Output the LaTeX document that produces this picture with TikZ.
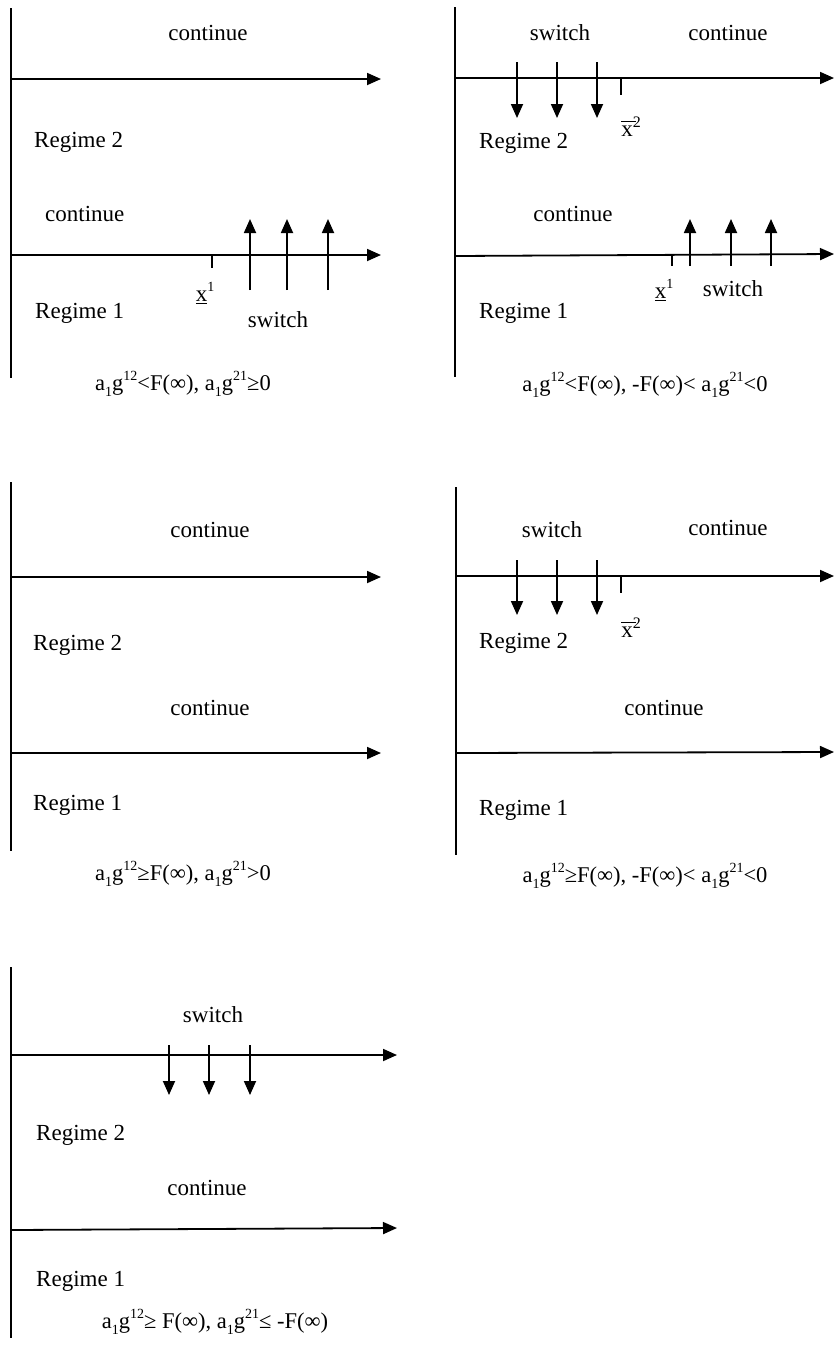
\documentclass[tikz,border=0pt]{standalone}
\usepackage{fontspec}
\setmainfont{Liberation Serif}
\usetikzlibrary{arrows.meta}
\newcommand{\sml}[1]{{\fontsize{14}{14}\selectfont #1}}
\newcommand{\ag}[1]{a\raisebox{-0.28em}{\sml{1}}g\raisebox{0.42em}{\sml{#1}}}
\newcommand{\xlo}{\underline{x}\raisebox{0.42em}{\sml{1}}}
\newcommand{\xhi}{\makebox[0pt][l]{\rule[0.62em]{0.66em}{0.06em}}x\raisebox{0.38em}{{\fontsize{16}{16}\selectfont 2}}}

\begin{document}
\begin{tikzpicture}[x=1pt, y=-1pt,
  every node/.style={font=\fontsize{23}{27}\selectfont, inner sep=0pt},
  wall/.style={line width=1.8pt},
  axis/.style={line width=1.8pt, -{Triangle[length=14pt,width=12pt]}},
  move/.style={line width=1.8pt, -{Triangle[length=14pt,width=12pt]}},
  tick/.style={line width=1.5pt},
  lab/.style={anchor=center},
  reg/.style={anchor=west},
  cond/.style={anchor=center, font=\fontsize{22.5}{26}\selectfont}
]
  \useasboundingbox (0,0) rectangle (835,1353);
  \def\colL{11}\def\colR{455}

  % panel 1: top left
  \coordinate (p1wt) at (\colL,8);    \coordinate (p1wb) at (\colL,378);
  \coordinate (p1ua) at (\colL,79);   \coordinate (p1ub) at (381,79);
  \coordinate (p1la) at (\colL,255);  \coordinate (p1lb) at (381,255);
  \coordinate (p1ka) at (212,255);    \coordinate (p1kb) at (212,268);
  \draw[wall] (p1wt) -- (p1wb);
  \draw[axis] (p1ua) -- (p1ub);
  \draw[axis] (p1la) -- (p1lb);
  \draw[tick] (p1ka) -- (p1kb);
  \foreach \x [count=\i] in {250,287,328} {
    \coordinate (p1b\i) at (\x,290); \coordinate (p1t\i) at (\x,219);
    \draw[move] (p1b\i) -- (p1t\i);
  }
  \node[lab] (p1c2) at (208,33) {continue};
  \node[reg] (p1r2) at (34,142) {Regime 2};
  \node[reg] (p1c1) at (45,214) {continue};
  \node[lab] (p1x) at (205,293) {\xlo};
  \node[lab] (p1sw) at (278,320) {switch};
  \node[reg] (p1r1) at (35,313) {Regime 1};
  \node[cond] (p1cap) at (183,384) {\ag{12}<F(∞), \ag{21}≥0};

  % panel 2: top right
  \coordinate (p2wt) at (\colR,7);    \coordinate (p2wb) at (\colR,377);
  \coordinate (p2ua) at (\colR,78);   \coordinate (p2ub) at (834,78);
  \coordinate (p2la) at (\colR,256);  \coordinate (p2lb) at (834,254);
  \coordinate (p2ka) at (621,78);     \coordinate (p2kb) at (621,95);
  \coordinate (p2ja) at (672,255);    \coordinate (p2jb) at (672,266);
  \draw[wall] (p2wt) -- (p2wb);
  \draw[axis] (p2ua) -- (p2ub);
  \draw[axis] (p2la) -- (p2lb);
  \draw[tick] (p2ka) -- (p2kb);
  \draw[tick] (p2ja) -- (p2jb);
  \foreach \x [count=\i] in {517,557,597} {
    \coordinate (p2s\i) at (\x,62); \coordinate (p2d\i) at (\x,118);
    \draw[move] (p2s\i) -- (p2d\i);
  }
  \foreach \x [count=\i] in {690,731,771} {
    \coordinate (p2b\i) at (\x,266); \coordinate (p2t\i) at (\x,219);
    \draw[move] (p2b\i) -- (p2t\i);
  }
  \node[lab] (p2sw2) at (560,33) {switch};
  \node[lab] (p2c2) at (728,33) {continue};
  \node[lab] (p2xh) at (631,127) {\xhi};
  \node[reg] (p2r2) at (479,143) {Regime 2};
  \node[lab] (p2c1) at (573,214) {continue};
  \node[lab] (p2xl) at (664,290) {\xlo};
  \node[lab] (p2sw1) at (733,289) {switch};
  \node[reg] (p2r1) at (479,313) {Regime 1};
  \node[cond] (p2cap) at (645,385) {\ag{12}<F(∞), -F(∞)< \ag{21}<0};

  % panel 3: middle left
  \coordinate (p3wt) at (\colL,482);  \coordinate (p3wb) at (\colL,851);
  \coordinate (p3ua) at (\colL,577);  \coordinate (p3ub) at (381,577);
  \coordinate (p3la) at (\colL,753);  \coordinate (p3lb) at (381,753);
  \draw[wall] (p3wt) -- (p3wb);
  \draw[axis] (p3ua) -- (p3ub);
  \draw[axis] (p3la) -- (p3lb);
  \node[lab] (p3c2) at (210,530) {continue};
  \node[reg] (p3r2) at (33,645) {Regime 2};
  \node[lab] (p3c1) at (210,708) {continue};
  \node[reg] (p3r1) at (33,805) {Regime 1};
  \node[cond] (p3cap) at (183,874) {\ag{12}≥F(∞), \ag{21}>0};

  % panel 4: middle right
  \coordinate (p4wt) at (456,487);    \coordinate (p4wb) at (456,855);
  \coordinate (p4ua) at (456,576);    \coordinate (p4ub) at (834,576);
  \coordinate (p4la) at (456,753);    \coordinate (p4lb) at (834,752);
  \coordinate (p4ka) at (621,576);    \coordinate (p4kb) at (621,593);
  \draw[wall] (p4wt) -- (p4wb);
  \draw[axis] (p4ua) -- (p4ub);
  \draw[axis] (p4la) -- (p4lb);
  \draw[tick] (p4ka) -- (p4kb);
  \foreach \x [count=\i] in {517,557,597} {
    \coordinate (p4s\i) at (\x,560); \coordinate (p4d\i) at (\x,615);
    \draw[move] (p4s\i) -- (p4d\i);
  }
  \node[lab] (p4sw) at (552,530) {switch};
  \node[lab] (p4c2) at (728,528) {continue};
  \node[lab] (p4xh) at (631,628) {\xhi};
  \node[reg] (p4r2) at (479,643) {Regime 2};
  \node[lab] (p4c1) at (664,708) {continue};
  \node[reg] (p4r1) at (479,810) {Regime 1};
  \node[cond] (p4cap) at (645,876) {\ag{12}≥F(∞), -F(∞)< \ag{21}<0};

  % panel 5: bottom left
  \coordinate (p5wt) at (\colL,967);  \coordinate (p5wb) at (\colL,1338);
  \coordinate (p5ua) at (\colL,1055); \coordinate (p5ub) at (397,1055);
  \coordinate (p5la) at (\colL,1230); \coordinate (p5lb) at (397,1228);
  \draw[wall] (p5wt) -- (p5wb);
  \draw[axis] (p5ua) -- (p5ub);
  \draw[axis] (p5la) -- (p5lb);
  \foreach \x [count=\i] in {169,209,250} {
    \coordinate (p5s\i) at (\x,1045); \coordinate (p5d\i) at (\x,1095);
    \draw[move] (p5s\i) -- (p5d\i);
  }
  \node[lab] (p5sw) at (213,1015) {switch};
  \node[reg] (p5r2) at (36,1135) {Regime 2};
  \node[lab] (p5c1) at (207,1188) {continue};
  \node[reg] (p5r1) at (36,1281) {Regime 1};
  \node[cond] (p5cap) at (215,1322) {\ag{12}≥ F(∞), \ag{21}≤ -F(∞)};
\end{tikzpicture}
\end{document}
